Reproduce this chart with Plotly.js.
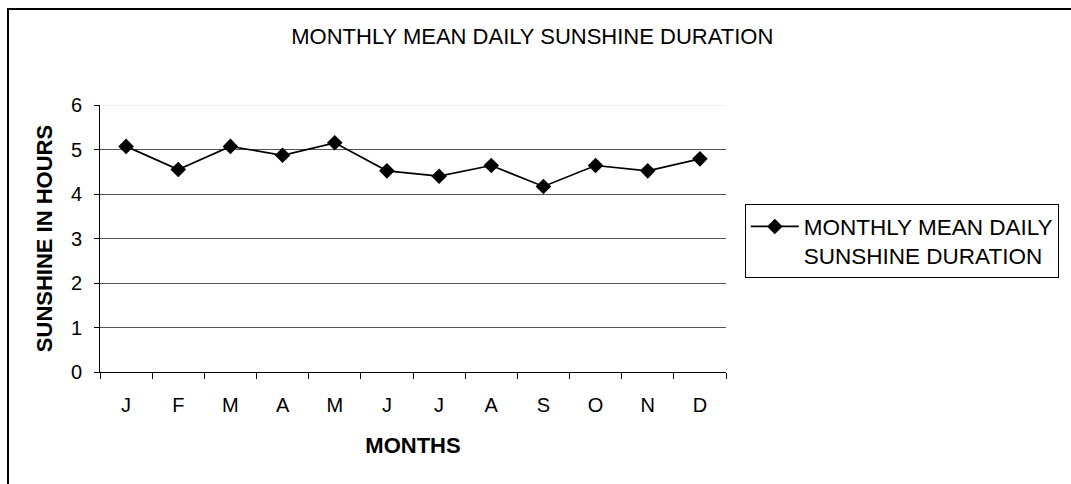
<!DOCTYPE html>
<html>
<head>
<meta charset="utf-8">
<script src="https://cdn.plot.ly/plotly-3.0.1.min.js"></script>
<style>
  html, body { margin: 0; padding: 0; background: #fff; overflow: hidden; }
  #chart { width: 1071px; height: 484px; position: absolute; left: 0; top: 0; }
  #frame { position: absolute; left: 7px; top: 8px; width: 1100px; height: 520px;
           border: 2px solid #000; pointer-events: none; }
</style>
</head>
<body>
<div id="chart"></div>
<div id="frame"></div>
<script>
// Data
const months = ['Jan', 'Feb', 'Mar', 'Apr', 'May', 'Jun', 'Jul', 'Aug', 'Sep', 'Oct', 'Nov', 'Dec'];
const monthLabels = ['J', 'F', 'M', 'A', 'M', 'J', 'J', 'A', 'S', 'O', 'N', 'D'];
const sunshineHours = [5.07, 4.55, 5.07, 4.87, 5.15, 4.52, 4.40, 4.64, 4.17, 4.64, 4.52, 4.79];
const seriesName = 'MONTHLY MEAN DAILY<br>SUNSHINE DURATION';
const chartTitle = 'MONTHLY MEAN DAILY SUNSHINE DURATION';
const xTitle = 'MONTHS';
const yTitle = 'SUNSHINE IN HOURS';
const yTicks = [0, 1, 2, 3, 4, 5, 6];

const FONT = 'Arial, "Liberation Sans", sans-serif';

const trace = {
  type: 'scatter',
  mode: 'lines+markers',
  x: months,
  y: sunshineHours,
  name: seriesName,
  line: { color: '#000', width: 1.7 },
  marker: { symbol: 'diamond', size: 12, color: '#000' },
  showlegend: true,
  hoverinfo: 'x+y'
};

const layout = {
  width: 1071,
  height: 484,
  margin: { l: 100, r: 345, t: 105, b: 112, autoexpand: false },
  paper_bgcolor: '#fff',
  plot_bgcolor: '#fff',
  font: { family: FONT, color: '#000', size: 20 },
  title: {
    text: chartTitle,
    font: { family: FONT, size: 22, color: '#000' },
    x: 0.497, xref: 'container', xanchor: 'center',
    y: 0.925, yref: 'container', yanchor: 'middle'
  },
  xaxis: {
    type: 'category',
    tickvals: months,
    ticktext: monthLabels,
    tickson: 'boundaries',
    ticks: 'outside',
    ticklen: 6,
    tickcolor: '#000',
    tickwidth: 1,
    showline: true,
    linecolor: '#000',
    linewidth: 1,
    showgrid: false,
    zeroline: false,
    range: [-0.5, 11.5],
    tickfont: { family: FONT, size: 20, color: '#000' },
    ticklabelstandoff: 15,
    automargin: false,
    title: {
      text: xTitle,
      font: { family: FONT, size: 22, color: '#000', weight: 'bold' },
      standoff: 22
    }
  },
  yaxis: {
    range: [0, 6],
    tickvals: yTicks,
    ticks: 'outside',
    ticklen: 5,
    tickcolor: '#000',
    tickwidth: 1,
    showline: true,
    linecolor: '#000',
    linewidth: 1,
    showgrid: true,
    gridcolor: '#555',
    gridwidth: 1,
    zeroline: false,
    tickfont: { family: FONT, size: 20, color: '#000' },
    ticklabelstandoff: 8,
    automargin: false,
    title: {
      text: yTitle,
      font: { family: FONT, size: 22, color: '#000', weight: 'bold' },
      standoff: 12
    }
  },
  shapes: [{
    type: 'line', xref: 'paper', yref: 'y',
    x0: 0.002, x1: 1, y0: yTicks[yTicks.length - 1], y1: yTicks[yTicks.length - 1],
    line: { color: '#e4e4e4', width: 1 },
    layer: 'above'
  }],
  legend: {
    x: 1.03, xanchor: 'left',
    y: 0.628, yanchor: 'top',
    bordercolor: '#000',
    borderwidth: 1,
    bgcolor: '#fff',
    font: { family: FONT, size: 22.5, color: '#000' },
    itemwidth: 48,
    valign: 'top',
    tracegroupgap: 0
  },
  showlegend: true
};

Plotly.newPlot('chart', [trace], layout, { displayModeBar: false, staticPlot: true });
</script>
</body>
</html>
